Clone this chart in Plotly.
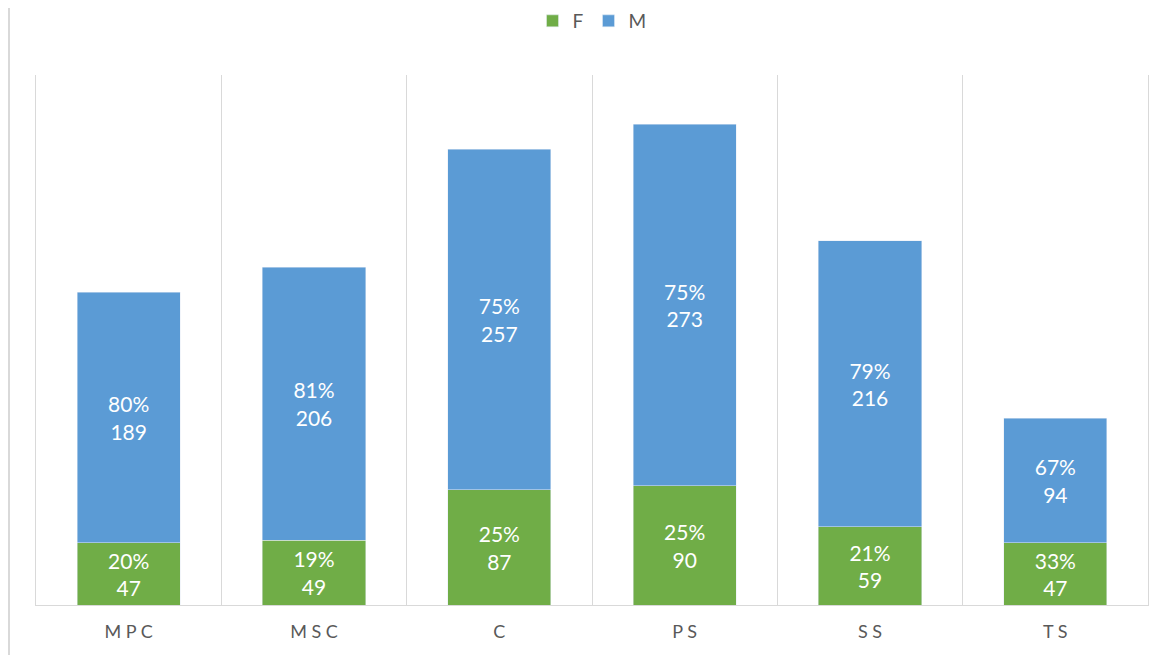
import plotly.graph_objects as go

# Counts per school by gender
categories = ["MPC", "MSC", "C", "PS", "SS", "TS"]
tick_labels = ["M P C", "M S C", "C", "P S", "S S", "T S"]
female = [47, 49, 87, 90, 59, 47]
male = [189, 206, 257, 273, 216, 94]

GREEN = "#70AD47"
BLUE = "#5B9BD5"
GRAY = "#D9D9D9"
FONT = "Lato, 'Open Sans', sans-serif"

totals = [f + m for f, m in zip(female, male)]
f_text = [f"{round(100 * f / t)}%<br>{f}" for f, t in zip(female, totals)]
m_text = [f"{round(100 * m / t)}%<br>{m}" for m, t in zip(male, totals)]

fig = go.Figure()
fig.add_trace(go.Bar(
    x=categories, y=female, name="F", marker_color=GREEN,
    text=f_text, textposition="inside", insidetextanchor="middle",
    textfont=dict(color="white", size=21, family=FONT),
))
fig.add_trace(go.Bar(
    x=categories, y=male, name="M", marker_color=BLUE,
    text=m_text, textposition="inside", insidetextanchor="middle",
    textfont=dict(color="white", size=21, family=FONT),
))

L, R, T, B = 28, 18, 67, 58
W, H = 1158, 655
plot_w = W - L - R

fig.update_layout(
    barmode="stack",
    bargap=0.444,
    width=W, height=H,
    margin=dict(l=L, r=R, t=T, b=B),
    plot_bgcolor="white", paper_bgcolor="white",
    font=dict(family=FONT, color="#595959", size=16),
    legend=dict(orientation="h", x=0.5, xanchor="center",
                yref="container", y=1 - 13 / H, yanchor="middle",
                font=dict(size=19, color="#595959"),
                itemwidth=30, traceorder="normal"),
    showlegend=True,
    xaxis=dict(
        tickmode="array", tickvals=categories, ticktext=tick_labels,
        tickson="boundaries", showgrid=True, gridcolor=GRAY, gridwidth=1,
        showline=True, linecolor=GRAY, linewidth=1, ticks="",
        ticklabelstandoff=10,
        tickfont=dict(size=18, color="#595959"),
    ),
    yaxis=dict(range=[0, 400], showgrid=False, showticklabels=False,
               zeroline=False, showline=True, mirror=True,
               linecolor=GRAY, linewidth=1),
    uniformtext=dict(minsize=21, mode="show"),
)

# outer chart border on the left
fig.add_shape(type="line", xref="paper", yref="paper",
              x0=-(L - 1) / plot_w, x1=-(L - 1) / plot_w, y0=-0.3, y1=1.3,
              line=dict(color=GRAY, width=2), layer="below")

fig.write_html("out.html")
